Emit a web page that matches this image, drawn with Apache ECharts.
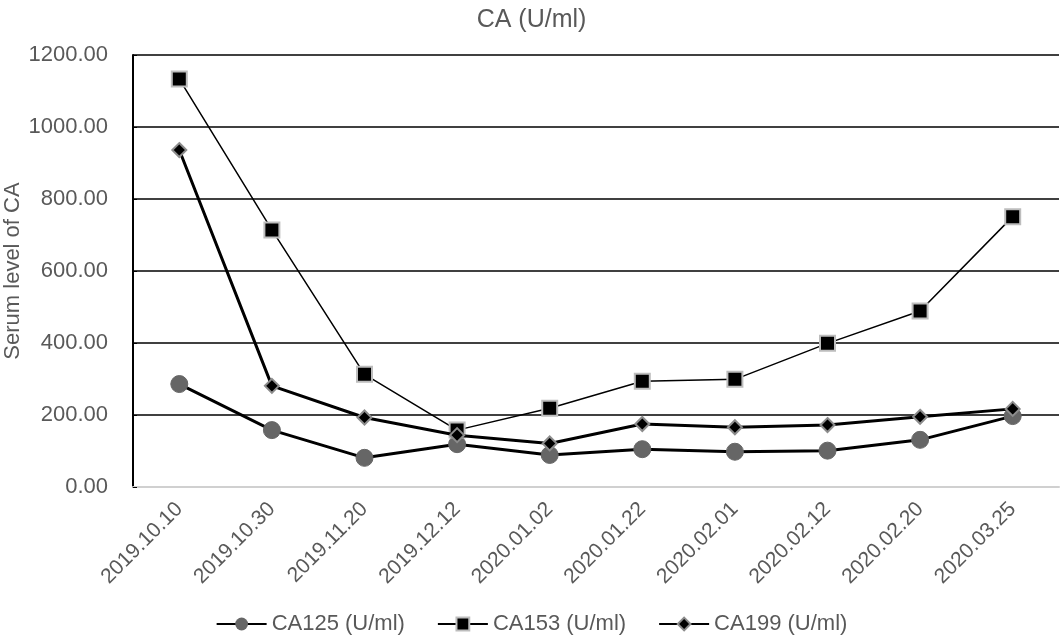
<!DOCTYPE html>
<html>
<head>
<meta charset="utf-8">
<title>CA (U/ml)</title>
<script src="https://cdn.jsdelivr.net/npm/echarts@6/dist/echarts.min.js"></script>
<style>
  html, body { margin: 0; padding: 0; background: #fff; }
  #chart { width: 1063px; height: 642px; }
</style>
</head>
<body>
<div id="chart"></div>
<script>
// categories (sampling dates)
var dates = ['2019.10.10', '2019.10.30', '2019.11.20', '2019.12.12', '2020.01.02',
             '2020.01.22', '2020.02.01', '2020.02.12', '2020.02.20', '2020.03.25'];
// serum levels
var ca125 = [286, 158, 81, 119, 89, 105, 98, 101, 131, 197];
var ca153 = [1133, 714, 313, 158, 219, 294, 299, 399, 489, 751];
var ca199 = [936, 281, 193, 144, 121, 175, 166, 172, 195, 217];
// y ticks
var yTicks = [0, 200, 400, 600, 800, 1000, 1200];

var font = "'Liberation Sans', Arial, sans-serif";
var grey = '#595959';

var chart = echarts.init(document.getElementById('chart'));

chart.setOption({
  animation: false,
  textStyle: { fontFamily: font },
  title: {
    text: 'CA (U/ml)',
    left: 'center',
    top: 3,
    textStyle: { fontFamily: font, fontSize: 25, fontWeight: 'normal', color: grey }
  },
  legend: {
    bottom: 2,
    left: 'center',
    itemGap: 32,
    itemWidth: 50,
    itemHeight: 16,
    textStyle: { fontFamily: font, fontSize: 22, color: grey },
    data: ['CA125 (U/ml)', 'CA153 (U/ml)', 'CA199 (U/ml)']
  },
  grid: { left: 133, right: 4, top: 55, bottom: 155, outerBoundsMode: 'none' },
  xAxis: {
    type: 'category',
    data: dates,
    boundaryGap: true,
    axisLine: { lineStyle: { color: '#d0d0d0', width: 2 } },
    axisTick: { show: false },
    axisLabel: {
      rotate: 45,
      interval: 0,
      margin: 19,
      fontFamily: font,
      fontSize: 21,
      color: grey
    }
  },
  yAxis: {
    type: 'value',
    min: yTicks[0],
    max: yTicks[yTicks.length - 1],
    interval: 200,
    name: 'Serum level of CA',
    nameLocation: 'middle',
    nameGap: 109,
    nameMoveOverlap: false,
    nameTextStyle: { fontFamily: font, fontSize: 22, color: grey },
    axisLine: { show: true, lineStyle: { color: '#000', width: 2 } },
    axisTick: { show: true, length: 4, inside: true, lineStyle: { color: '#000' } },
    axisLabel: {
      margin: 25,
      fontFamily: font,
      fontSize: 22,
      color: grey,
      formatter: function (v) { return v.toFixed(2); }
    },
    splitLine: { lineStyle: { color: '#000', width: 1.5 } }
  },
  series: [
    {
      name: 'CA125 (U/ml)',
      type: 'line',
      data: ca125,
      symbol: 'circle',
      symbolSize: 17,
      itemStyle: { color: '#666666', borderColor: '#666666' },
      lineStyle: { color: '#000', width: 3 }
    },
    {
      name: 'CA153 (U/ml)',
      type: 'line',
      data: ca153,
      symbol: 'rect',
      symbolSize: 15,
      itemStyle: { color: '#000', borderColor: '#bdbdbd', borderWidth: 2 },
      lineStyle: { color: '#000', width: 1.5 },
      z: 3
    },
    {
      name: 'CA199 (U/ml)',
      type: 'line',
      data: ca199,
      symbol: 'diamond',
      symbolSize: [14, 14],
      itemStyle: { color: '#000', borderColor: '#8c8c8c', borderWidth: 2 },
      lineStyle: { color: '#000', width: 3 },
      z: 4
    }
  ]
});
</script>
</body>
</html>
